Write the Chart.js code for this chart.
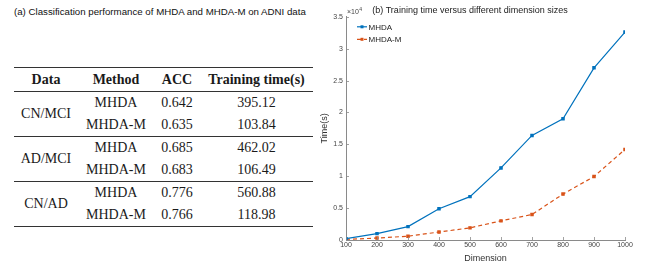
<!DOCTYPE html>
<html>
<head>
<meta charset="utf-8">
<script src="https://cdn.jsdelivr.net/npm/chart.js@4"></script>
<style>
  html, body { margin:0; padding:0; background:#fff; width:646px; height:264px; overflow:hidden; }
  #leftTitle { position:absolute; left:14px; top:6px; font-family:"Liberation Sans", Arial, sans-serif; font-size:9.7px; color:#111; white-space:nowrap; }
  #tbl { position:absolute; left:14px; top:67px; width:299px; border-collapse:collapse; font-family:"Liberation Serif", "Times New Roman", serif; font-size:14px; color:#1a1a1a; table-layout:fixed; }
  #tbl th, #tbl td { padding:0; text-align:center; vertical-align:middle; white-space:nowrap; }
  #tbl thead tr { height:24px; border-top:1.2px solid #333; border-bottom:1px solid #333; }
  #tbl tbody tr { height:22.5px; }
  #tbl tbody tr.grpEnd { border-bottom:1px solid #333; }
  #tbl tbody tr.last { border-bottom:1.2px solid #333; }
  #wrap { position:absolute; left:315px; top:0; width:331px; height:264px; }
</style>
</head>
<body>
<div id="leftTitle"></div>
<table id="tbl">
  <colgroup><col style="width:64px"><col style="width:76px"><col style="width:46px"><col style="width:113px"></colgroup>
  <thead><tr id="hdr"></tr></thead>
  <tbody id="tb"></tbody>
</table>
<div id="wrap"><canvas id="c" width="331" height="264"></canvas></div>
<script>
// ---- Table (a) data ----
const tableTitle = "(a) Classification performance of MHDA and MHDA-M on ADNI data";
const tableHeaders = ["Data", "Method", "ACC", "Training time(s)"];
const dataGroups = ["CN/MCI", "AD/MCI", "CN/AD"];
const methods = ["MHDA", "MHDA-M"];
const accValues = [[0.642, 0.635], [0.685, 0.683], [0.776, 0.766]];
const trainTimes = [["395.12", "103.84"], ["462.02", "106.49"], ["560.88", "118.98"]];

// ---- Chart (b) data ----
const chartTitle = "(b) Training time versus different dimension sizes";
const dimensions = [100, 200, 300, 400, 500, 600, 700, 800, 900, 1000];
const mhdaTime  = [200, 1000, 2100, 4900, 6800, 11300, 16400, 19000, 27000, 32600];
const mhdaMTime = [100, 300, 600, 1250, 1900, 3000, 4000, 7200, 9950, 14200];
const seriesNames = ["MHDA", "MHDA-M"];
const xTickValues = [100, 200, 300, 400, 500, 600, 700, 800, 900, 1000];
const yTickValues = [0, 5000, 10000, 15000, 20000, 25000, 30000, 35000];
const yTickLabels = ["0", "0.5", "1", "1.5", "2", "2.5", "3", "3.5"];
const yScaleFactor = 10000;

// build table
document.getElementById('leftTitle').textContent = tableTitle;
const hdr = document.getElementById('hdr');
tableHeaders.forEach(h => { const th = document.createElement('th'); th.textContent = h; hdr.appendChild(th); });
const tb = document.getElementById('tb');
dataGroups.forEach((g, gi) => {
  methods.forEach((m, mi) => {
    const tr = document.createElement('tr');
    if (mi === methods.length - 1) tr.className = (gi === dataGroups.length - 1) ? 'last' : 'grpEnd';
    if (mi === 0) { const td = document.createElement('td'); td.rowSpan = methods.length; td.textContent = g; tr.appendChild(td); }
    [m, accValues[gi][mi].toFixed(3), trainTimes[gi][mi]].forEach(v => { const td = document.createElement('td'); td.textContent = v; tr.appendChild(td); });
    tb.appendChild(tr);
  });
});

const SANS = '"Liberation Sans", Arial, sans-serif';
const BLUE = '#0072BD', ORANGE = '#D95319', AXIS = '#8a8a8a', TXT = '#444';

const extras = {
  id: 'extras',
  afterDraw(chart) {
    const ctx = chart.ctx, ca = chart.chartArea;
    const xs = chart.scales.x, ys = chart.scales.y;
    ctx.save();
    // inward tick marks
    ctx.strokeStyle = AXIS; ctx.lineWidth = 0.8;
    ctx.beginPath();
    xs.ticks.forEach(t => { const px = Math.round(xs.getPixelForValue(t.value)) + 0.5; ctx.moveTo(px, ca.bottom); ctx.lineTo(px, ca.bottom - 3); });
    ys.ticks.forEach(t => { const py = Math.round(ys.getPixelForValue(t.value)) + 0.5; ctx.moveTo(ca.left, py); ctx.lineTo(ca.left + 3, py); });
    ctx.stroke();
    // y tick labels (drawn at the scale's own tick positions)
    ctx.fillStyle = TXT; ctx.font = '7px ' + SANS; ctx.textAlign = 'right'; ctx.textBaseline = 'middle';
    ys.ticks.forEach(t => { ctx.fillText(yTickLabels[yTickValues.indexOf(t.value)], ca.left - 3, ys.getPixelForValue(t.value)); });
    // exponent label
    ctx.textBaseline = 'alphabetic'; ctx.textAlign = 'left';
    ctx.fillText('\u00d710', ca.left + 1, ca.top - 3);
    const w = ctx.measureText('\u00d710').width;
    ctx.font = '5px ' + SANS;
    ctx.fillText(String(Math.log10(yScaleFactor)), ca.left + 1 + w + 0.5, ca.top - 6);
    // legend
    ctx.font = '8px ' + SANS; ctx.textBaseline = 'middle';
    chart.data.datasets.forEach((ds, i) => {
      const y = ca.top + 10 + i * 12.5;
      const x0 = ca.left + 11, x1 = x0 + 10;
      ctx.strokeStyle = ds.borderColor; ctx.lineWidth = ds.borderWidth;
      ctx.setLineDash(ds.borderDash || []);
      ctx.beginPath(); ctx.moveTo(x0, y); ctx.lineTo(x1, y); ctx.stroke();
      ctx.setLineDash([]);
      ctx.fillStyle = ds.pointBackgroundColor;
      ctx.fillRect((x0 + x1) / 2 - 1.5, y - 1.5, 3, 3);
      ctx.fillStyle = '#222';
      ctx.fillText(ds.label, x1 + 1.5, y + 0.5);
    });
    ctx.restore();
  }
};

new Chart(document.getElementById('c'), {
  type: 'line',
  data: {
    datasets: [
      { label: seriesNames[0], data: dimensions.map((d, i) => ({ x: d, y: mhdaTime[i] })),
        borderColor: BLUE, backgroundColor: BLUE, pointBackgroundColor: BLUE, pointBorderColor: BLUE,
        borderWidth: 1.2, pointStyle: 'rect', pointRadius: 1.6, tension: 0 },
      { label: seriesNames[1], data: dimensions.map((d, i) => ({ x: d, y: mhdaMTime[i] })),
        borderColor: ORANGE, backgroundColor: ORANGE, pointBackgroundColor: ORANGE, pointBorderColor: ORANGE,
        borderWidth: 1.2, borderDash: [4, 3], pointStyle: 'rect', pointRadius: 1.6, tension: 0 }
    ]
  },
  options: {
    responsive: false, animation: false, devicePixelRatio: 1,
    layout: { padding: { top: 0, right: 21, left: 0, bottom: 0 } },
    plugins: {
      legend: { display: false }, tooltip: { enabled: false },
      title: { display: true, text: chartTitle, color: '#222', font: { family: SANS, size: 9, weight: 'normal' }, padding: { top: 5, bottom: 1 } }
    },
    scales: {
      x: {
        type: 'linear', min: 100, max: 1000,
        afterBuildTicks(s) { s.ticks = xTickValues.map(v => ({ value: v })); },
        ticks: { color: TXT, font: { family: SANS, size: 7 }, padding: 1, maxRotation: 0, autoSkip: false,
                 callback: (v) => String(v) },
        grid: { display: true, drawOnChartArea: false, drawTicks: false },
        border: { display: true, color: AXIS, width: 1 },
        title: { display: true, text: 'Dimension', color: '#333', font: { family: SANS, size: 9 }, padding: { top: 1, bottom: 0 } },
        afterFit(s) { s.height = 24; }
      },
      y: {
        min: 0, max: 35000,
        afterBuildTicks(s) { s.ticks = yTickValues.map(v => ({ value: v })); },
        ticks: { color: 'rgba(0,0,0,0)', font: { family: SANS, size: 7 }, padding: 3, autoSkip: false,
                 callback: (v) => yTickLabels[yTickValues.indexOf(v)] },
        grid: { display: true, drawOnChartArea: false, drawTicks: false },
        border: { display: true, color: AXIS, width: 1 },
        title: { display: true, text: 'Time(s)', color: '#333', font: { family: SANS, size: 9 }, padding: { top: 4, bottom: 0 } },
        afterFit(s) { s.width = 31; }
      }
    }
  },
  plugins: [extras]
});
</script>
</body>
</html>
